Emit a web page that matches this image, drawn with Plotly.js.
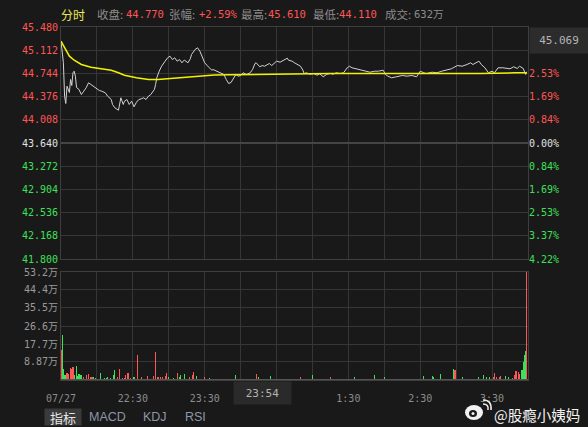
<!DOCTYPE html>
<html><head><meta charset="utf-8">
<script src="https://cdn.plot.ly/plotly-3.0.1.min.js"></script>
<style>html,body{margin:0;padding:0;background:#191919;}#chart{width:588px;height:427px;}</style>
</head><body><div id="chart"></div>
<script>
// ---- data ----
const prevClose = 43.640;
const priceTicks = [41.800, 42.168, 42.536, 42.904, 43.272, 43.640, 44.008, 44.376, 44.744, 45.112, 45.480];
const priceTickText = ['41.800','42.168','42.536','42.904','43.272','43.640','44.008','44.376','44.744','45.112','45.480'];
// top two percentage labels are hidden behind the crosshair price box in the reference
const pctTickText = ['4.22%','3.37%','2.53%','1.69%','0.84%','0.00%','0.84%','1.69%','2.53%','',''];
const volTicks = [8.87, 17.7, 26.6, 35.5, 44.4, 53.2];
const volTickText = ['8.87万','17.7万','26.6万','35.5万','44.4万','53.2万'];
const timeTicks = [0,30,60,90,120,150,180,210,240,270,300,330,360,390];
const timeTickText = ['07/27','','22:30','','23:30','','','','1:30','','2:30','','3:30',''];

const headerLabels = ['收盘:','张幅:','最高:','最低:','成交:'];
const headerValues = ['44.770','+2.59%','45.610','44.110','632万'];
const crossPrice = '45.069';
const crossTime = '23:54';
const tabs = ['指标','MACD','KDJ','RSI'];
const watermark = '@股瘾小姨妈';

// minute index from 21:30
const priceT = [0,2,3,4,5,7,8,9,10,11,12,13,15,17,19,21,23,25,28,30,32,34,37,39,42,43,45,48,49,50,52,53,55,57,59,61,63,65,67,69,71,73,75,78,79,80,82,84,87,89,91,93,95,97,99,101,103,106,108,109,112,114,116,118,120,123,126,127,130,133,136,138,140,142,144,146,148,150,152,155,158,160,162,163,166,168,170,172,174,176,178,180,183,186,189,190,193,195,198,200,202,203,205,208,211,214,216,219,222,225,227,230,233,236,239,241,243,246,250,254,258,262,265,269,271,273,276,280,285,289,293,297,300,303,305,310,314,318,322,326,331,335,339,342,344,349,351,354,357,360,362,365,369,372,375,378,381,383,386,388,389];
const priceV = [45.255,44.917,44.382,44.267,44.541,44.441,44.647,44.552,44.754,44.779,44.700,44.520,44.489,44.409,44.462,44.516,44.595,44.568,44.516,44.489,44.473,44.462,44.436,44.382,44.330,44.251,44.198,44.160,44.303,44.357,44.251,44.303,44.330,44.251,44.303,44.214,44.287,44.330,44.341,44.357,44.330,44.382,44.409,44.489,44.568,44.674,44.779,44.858,44.938,44.991,45.017,44.964,44.991,44.938,44.964,44.912,44.956,44.912,44.976,45.044,45.123,45.150,45.096,44.991,44.912,44.849,44.795,44.806,44.779,44.754,44.727,44.647,44.584,44.600,44.674,44.727,44.700,44.711,44.754,44.727,44.754,44.806,44.901,44.912,44.849,44.869,44.858,44.885,44.901,44.869,44.912,44.938,44.922,44.953,44.985,44.953,44.938,44.912,44.885,44.858,44.795,44.742,44.754,44.731,44.742,44.715,44.738,44.690,44.731,44.742,44.731,44.754,44.742,44.754,44.833,44.858,44.833,44.817,44.795,44.779,44.763,44.779,44.779,44.795,44.727,44.700,44.674,44.690,44.711,44.700,44.711,44.690,44.779,44.754,44.742,44.763,44.754,44.779,44.795,44.817,44.869,44.858,44.885,44.912,44.885,44.938,44.885,44.833,44.754,44.779,44.754,44.833,44.833,44.822,44.817,44.849,44.822,44.858,44.822,44.727,44.770];

const avgT = [0,3,7,11,17,25,35,42,48,53,63,73,81,89,98,109,117,128,141,158,191,225,283,350,379,389];
const avgV = [45.255,45.150,45.017,44.953,44.885,44.842,44.817,44.795,44.754,44.715,44.674,44.647,44.647,44.658,44.674,44.684,44.700,44.720,44.722,44.727,44.742,44.742,44.742,44.742,44.754,44.754];

const volT = [0,1,2,3,4,5,6,8,9,10,11,13,14,15,16,17,19,21,23,25,26,27,29,33,36,38,39,41,44,45,47,49,51,53,54,56,58,61,64,67,72,77,79,81,83,85,87,88,90,94,97,99,100,103,107,110,111,113,120,124,146,163,165,175,200,210,225,245,262,270,303,310,311,317,328,329,335,349,353,355,358,361,362,364,366,367,371,374,377,379,380,382,383,385,386,387,388,389];
const volV = [14.8,22.2,5.4,2.5,2.5,3.3,3.0,5.7,5.4,6.2,2.5,6.9,2.0,2.9,2.5,2.5,1.5,2.5,3.0,1.5,1.5,1.4,1.0,3.6,1.0,1.0,1.5,1.0,2.5,4.9,1.5,5.6,1.0,1.0,2.5,3.6,1.0,1.3,12.3,1.3,2.0,2.2,13.8,1.3,1.3,1.3,2.0,3.6,1.3,1.0,3.3,1.5,2.5,3.0,1.3,2.5,4.1,2.0,1.5,1.0,2.5,3.0,1.5,2.0,1.5,2.5,1.5,1.5,2.5,1.6,2.0,2.0,1.5,3.0,5.4,4.9,1.3,1.3,2.5,1.5,1.5,1.5,3.6,1.5,1.5,2.0,2.0,1.5,1.0,2.5,4.6,4.0,3.0,4.9,9.0,12.3,14.4,60];
const volUp = [1,0,0,0,0,1,1,1,1,1,0,0,0,0,0,0,1,1,1,1,1,0,0,0,0,0,0,0,0,0,1,1,1,1,1,1,1,0,1,1,1,1,1,1,1,1,1,1,0,0,1,0,0,0,1,1,1,0,1,0,0,1,0,0,1,0,1,0,0,0,0,0,0,0,0,1,0,0,0,0,0,1,1,1,1,1,0,0,1,1,1,1,1,0,0,0,0,1];

// ---- styling ----
const RED = '#ff5656', GREEN = '#3ee05a', WHITE = '#e2e2e2', GRAY = '#8c8c8c';
const BG = '#191919', GRID = '#363636';
const MONO = 'DejaVu Sans Mono, Noto Sans CJK SC, monospace';
const CJK = 'Noto Sans CJK SC, sans-serif';

function col(v){ return Math.abs(v-prevClose) < 1e-6 ? WHITE : (v > prevClose ? RED : GREEN); }
const leftText = priceTicks.map((v,i)=>`<span style="color:${col(v)}">${priceTickText[i]}</span>`);
const rightText = priceTicks.map((v,i)=>pctTickText[i] ? `<span style="color:${col(v)}">${pctTickText[i]}</span>` : '');

const L = 61, T = 27, PH = 353, PW = 467;
function A(text, X, Y, o){
  return Object.assign({xref:'paper', yref:'paper', x:0, y:1, xshift:X-L, yshift:T-Y,
    xanchor:'left', yanchor:'middle', showarrow:false, text:text,
    font:{family:MONO, size:11, color:GRAY}}, o||{});
}
const px = X => (X-L)/PW, py = Y => (380-Y)/PH;

const ann = [
  A('分时', 59, 14, {font:{family:CJK, size:12, color:'#e8e85a'}}),
  A(headerLabels[0], 95, 14, {font:{family:CJK, size:11.5, color:GRAY}}),
  A(headerValues[0], 124, 14, {font:{family:MONO, size:10.5, color:RED}}),
  A(headerLabels[1], 167, 14, {font:{family:CJK, size:11.5, color:GRAY}}),
  A(headerValues[1], 197, 14, {font:{family:MONO, size:10.5, color:RED}}),
  A(headerLabels[2], 239, 14, {font:{family:CJK, size:11.5, color:GRAY}}),
  A(headerValues[2], 266, 14, {font:{family:MONO, size:10.5, color:RED}}),
  A(headerLabels[3], 311, 14, {font:{family:CJK, size:11.5, color:GRAY}}),
  A(headerValues[3], 337, 14, {font:{family:MONO, size:10.5, color:RED}}),
  A(headerLabels[4], 383, 14, {font:{family:CJK, size:11.5, color:GRAY}}),
  A(headerValues[4], 412, 14, {font:{family:MONO, size:10.5, color:GRAY}}),
  A(crossPrice, 558.5, 40, {xanchor:'center', width:58, height:25, borderpad:0, bgcolor:'#2c2c2c', font:{family:MONO, size:11, color:'#b4b4b4'}}),
  A(crossTime, 262, 393, {xanchor:'center', width:57, height:22, borderpad:0, bgcolor:'#2a2a2a', font:{family:MONO, size:11, color:'#b4b4b4'}}),
  A(tabs[0], 62.5, 417, {xanchor:'center', width:36, height:16, borderpad:0, bgcolor:'#3a3a3a', font:{family:CJK, size:13, color:'#e6e6e6'}}),
  A(tabs[1], 107, 417, {xanchor:'center', font:{family:'Liberation Sans, Arial, sans-serif', size:12.5, color:'#8e96a8'}}),
  A(tabs[2], 154.5, 417, {xanchor:'center', font:{family:'Liberation Sans, Arial, sans-serif', size:12.5, color:'#8e96a8'}}),
  A(tabs[3], 195, 417, {xanchor:'center', font:{family:'Liberation Sans, Arial, sans-serif', size:12.5, color:'#8e96a8'}}),
  A(watermark, 492, 414, {font:{family:CJK, size:14.5, color:'#f2f2f2'}})
];

const shapes = [
  {type:'line', xref:'paper', yref:'y', x0:0, x1:1, y0:prevClose, y1:prevClose, line:{color:'#454545', width:2}},
  {type:'line', xref:'paper', yref:'y2', x0:0, x1:1, y0:0, y1:0, line:{color:'#555555', width:2}},
  // weibo-like logo
  {type:'circle', xref:'paper', yref:'paper', x0:px(465), x1:px(483), y0:py(420), y1:py(405), fillcolor:'#f2f2f2', line:{width:0}},
  {type:'circle', xref:'paper', yref:'paper', x0:px(469), x1:px(477), y0:py(417), y1:py(410), fillcolor:BG, line:{width:0}},
  {type:'circle', xref:'paper', yref:'paper', x0:px(471.5), x1:px(474.5), y0:py(415), y1:py(412), fillcolor:'#f2f2f2', line:{width:0}},
  {type:'path', xref:'paper', yref:'paper', path:`M ${px(483)},${py(404)} Q ${px(489)},${py(404)} ${px(488)},${py(410)}`, line:{color:'#f2f2f2', width:1.5}},
  {type:'path', xref:'paper', yref:'paper', path:`M ${px(483)},${py(400)} Q ${px(492)},${py(400)} ${px(491)},${py(410)}`, line:{color:'#f2f2f2', width:1.5}}
];

const traces = [
  {type:'scatter', mode:'lines', x:priceT, y:priceV, xaxis:'x', yaxis:'y', line:{color:'#d2d2d2', width:1}, hoverinfo:'skip'},
  {type:'scatter', mode:'lines', x:avgT, y:avgV, xaxis:'x', yaxis:'y', line:{color:'#f2f200', width:1.5}, hoverinfo:'skip'},
  {type:'scatter', mode:'markers', x:[0], y:[prevClose], xaxis:'x', yaxis:'y3', marker:{opacity:0}, hoverinfo:'skip'},
  {type:'bar', x:volT, y:volV, xaxis:'x2', yaxis:'y2', width:0.95,
   marker:{color:volUp.map(u=>u?RED:GREEN), line:{width:0}}, hoverinfo:'skip'}
];

const axBase = {showgrid:true, gridcolor:GRID, gridwidth:1, zeroline:false, showline:true, mirror:true, linecolor:'#3e3e3e', linewidth:1, ticks:'', fixedrange:true};
const layout = {
  width:588, height:427, margin:{l:L, r:60, t:T, b:47},
  paper_bgcolor:BG, plot_bgcolor:BG, showlegend:false, bargap:0,
  font:{family:MONO, size:10, color:GRAY},
  xaxis:Object.assign({}, axBase, {domain:[0,1], anchor:'y', range:[0,390], tickvals:timeTicks, showticklabels:false}),
  xaxis2:Object.assign({}, axBase, {domain:[0,1], anchor:'y2', range:[0,390], tickvals:timeTicks, ticktext:timeTickText, ticklabelstandoff:9, tickfont:{family:MONO, size:10, color:GRAY}}),
  yaxis:Object.assign({}, axBase, {domain:[121/PH,1], anchor:'x', range:[41.8,45.48], tickvals:priceTicks, ticktext:leftText, tickfont:{family:MONO, size:10}}),
  yaxis3:{overlaying:'y', side:'right', anchor:'x', range:[41.8,45.48], tickvals:priceTicks, ticktext:rightText, showgrid:false, zeroline:false, showline:false, ticks:'', tickfont:{family:MONO, size:10}, fixedrange:true},
  yaxis2:Object.assign({}, axBase, {domain:[0,108/PH], anchor:'x2', range:[0,53.2], tickvals:volTicks, ticktext:volTickText, tickfont:{family:MONO, size:10, color:'#9a9a9a'}}),
  annotations:ann, shapes:shapes
};
Plotly.newPlot('chart', traces, layout, {staticPlot:true, displayModeBar:false});
</script></body></html>
